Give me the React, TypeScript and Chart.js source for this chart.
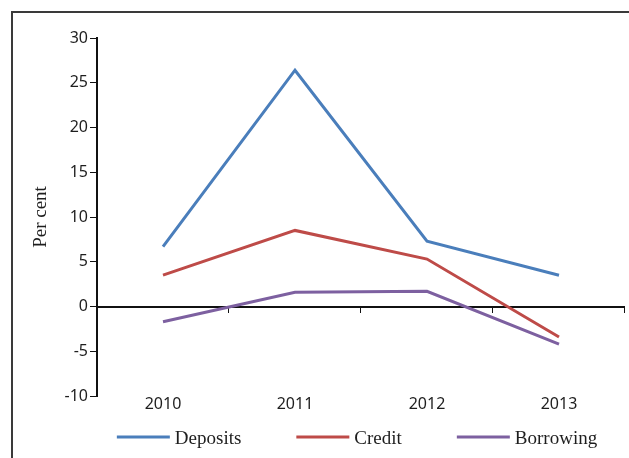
import { useEffect, useRef } from "react";
import { Chart, registerables } from "chart.js";

Chart.register(...registerables);

// Annual growth rates, per cent
const years = ["2010", "2011", "2012", "2013"];
const deposits = [6.7, 26.4, 7.3, 3.5];
const credit = [3.5, 8.5, 5.3, -3.4];
const borrowing = [-1.7, 1.6, 1.7, -4.2];

const yMin = -10;
const yMax = 30;
const yStep = 5;
const yTitle = "Per cent";

const seriesColors = ["#4A7EBB", "#BE4B48", "#7D60A0"];
const tickFont = { family: "Noto Sans", size: 16 };
const serifFamily = "Liberation Serif";
const textColor = "#1e1e1e";

// Horizontal axis drawn at y = 0, with tick marks on category boundaries
const zeroAxis = {
  id: "zeroAxis",
  beforeDatasetsDraw(chart: any) {
    const { ctx, chartArea, scales } = chart;
    const xs = scales.x;
    const ys = scales.y;
    const y0 = Math.round(ys.getPixelForValue(0));
    ctx.save();
    ctx.strokeStyle = "#111";
    ctx.lineWidth = 2;
    ctx.beginPath();
    ctx.moveTo(chartArea.left, y0);
    ctx.lineTo(chartArea.right, y0);
    ctx.stroke();
    const half = (xs.getPixelForTick(1) - xs.getPixelForTick(0)) / 2;
    ctx.lineWidth = 1;
    ctx.beginPath();
    for (let i = 0; i < xs.ticks.length; i++) {
      const bx = Math.round(xs.getPixelForTick(i) + half) - 0.5;
      ctx.moveTo(bx, y0);
      ctx.lineTo(bx, y0 + 6);
    }
    ctx.stroke();
    ctx.restore();
  },
};

// Legend row under the plot: line sample followed by its label
const lineLegend = {
  id: "lineLegend",
  afterDraw(chart: any) {
    const { ctx, chartArea } = chart;
    const sampleW = 53;
    const gap = 5;
    const spacing = 55;
    ctx.save();
    ctx.font = `19px "${serifFamily}"`;
    const items = chart.data.datasets.map((ds: any) => ({
      label: ds.label as string,
      color: ds.borderColor as string,
      w: sampleW + gap + ctx.measureText(ds.label).width,
    }));
    const total =
      items.reduce((s: number, it: any) => s + it.w, 0) + spacing * (items.length - 1);
    let x = (chartArea.left + chartArea.right) / 2 - 4 - total / 2;
    const y = chartArea.bottom + 41;
    ctx.textBaseline = "alphabetic";
    ctx.textAlign = "left";
    for (const it of items) {
      ctx.fillStyle = it.color;
      ctx.fillRect(x, y - 1.5, sampleW, 3);
      ctx.fillStyle = textColor;
      ctx.fillText(it.label, x + sampleW + gap, y + 6.5);
      x += it.w + spacing;
    }
    ctx.restore();
  },
};

export default function App() {
  const canvasRef = useRef<HTMLCanvasElement | null>(null);

  useEffect(() => {
    const canvas = canvasRef.current;
    if (!canvas) return;
    const makeSeries = (label: string, data: number[], color: string) => ({
      label,
      data,
      borderColor: color,
      backgroundColor: color,
      borderWidth: 3,
      pointRadius: 0,
      pointHoverRadius: 0,
      tension: 0,
      fill: false,
    });
    const chart = new Chart(canvas, {
      type: "line",
      data: {
        labels: years,
        datasets: [
          makeSeries("Deposits", deposits, seriesColors[0]),
          makeSeries("Credit", credit, seriesColors[1]),
          makeSeries("Borrowing", borrowing, seriesColors[2]),
        ],
      },
      options: {
        animation: false,
        responsive: false,
        devicePixelRatio: 1,
        layout: { padding: { top: 38, right: 4, bottom: 42, left: 0 } },
        plugins: {
          legend: { display: false },
          title: { display: false },
          tooltip: { enabled: false },
        },
        scales: {
          x: {
            offset: true,
            grid: { display: false, drawTicks: false },
            border: { display: false },
            ticks: { padding: -1, color: textColor, font: tickFont },
            afterFit(scale: any) {
              scale.height = 20;
            },
          },
          y: {
            min: yMin,
            max: yMax,
            ticks: { stepSize: yStep, padding: 2, color: textColor, font: tickFont },
            grid: {
              drawOnChartArea: false,
              drawTicks: true,
              tickLength: 7,
              color: "#111",
              lineWidth: 1,
            },
            border: { display: true, color: "#111", width: 2 },
            title: {
              display: true,
              text: yTitle,
              color: textColor,
              font: { family: serifFamily, size: 19 },
              padding: { top: 30, bottom: 0 },
            },
            afterFit(scale: any) {
              scale.width = 97;
            },
          },
        },
      },
      plugins: [zeroAxis, lineLegend],
    });
    return () => chart.destroy();
  }, []);

  return (
    <div
      style={{
        position: "fixed",
        left: 0,
        top: 0,
        width: 629,
        height: 458,
        background: "#fff",
        overflow: "hidden",
      }}
    >
      <div
        style={{
          position: "absolute",
          left: 11,
          top: 11,
          width: 700,
          height: 600,
          borderLeft: "2px solid #3a3a3a",
          borderTop: "2px solid #3a3a3a",
        }}
      />
      <canvas
        ref={canvasRef}
        width={629}
        height={458}
        style={{ position: "absolute", left: 0, top: 0 }}
      />
    </div>
  );
}
